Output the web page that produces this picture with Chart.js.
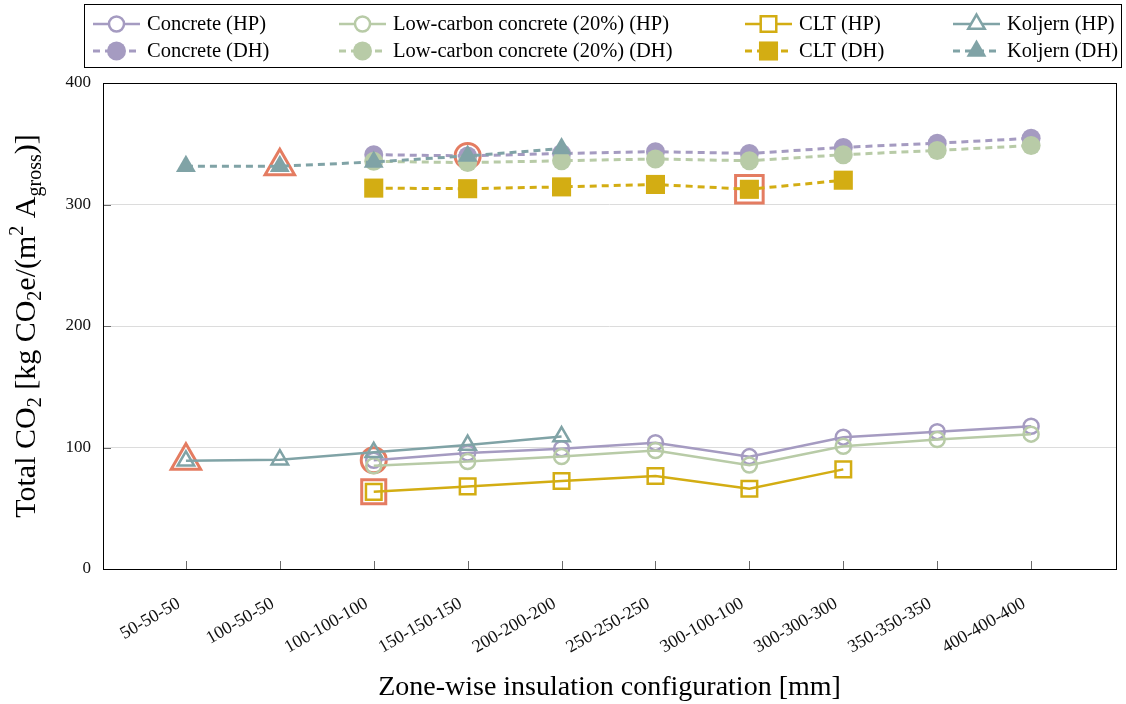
<!DOCTYPE html>
<html>
<head>
<meta charset="utf-8">
<script src="https://cdn.jsdelivr.net/npm/chart.js@4.4.1/dist/chart.umd.min.js"></script>
<style>
  html, body { margin: 0; padding: 0; background: #ffffff; }
  #wrap { width: 1126px; height: 704px; }
</style>
</head>
<body>
<div id="wrap"><canvas id="c" width="1126" height="704"></canvas></div>
<script>
// Insulation configurations (zone-wise thickness, mm)
const configurations = ['50-50-50', '100-50-50', '100-100-100', '150-150-150', '200-200-200',
  '250-250-250', '300-100-100', '300-300-300', '350-350-350', '400-400-400'];

// Total CO2 per building system, heat pump (HP) and district heating (DH)
const concreteHP  = [null, null, 89.5, 95.5, 99, 104, 92.5, 108.5, 113, 117.5];
const lowCarbonHP = [null, null, 85, 88.5, 92.5, 97.5, 85.5, 101, 106.5, 111];
const cltHP       = [null, null, 63.5, 68, 72.5, 76.5, 66, 82, null, null];
const koljernHP   = [89, 90, 96, 102, 109, null, null, null, null, null];

const concreteDH  = [null, null, 341, 340, 342, 343.5, 342, 347, 350.5, 354.5];
const lowCarbonDH = [null, null, 335.5, 334.5, 336, 337.5, 336, 341, 344.5, 348.5];
const cltDH       = [null, null, 313.5, 313, 314.5, 316.5, 312.5, 320, null, null];
const koljernDH   = [331.5, 331.5, 335, 340, 346, null, null, null, null, null];

const yTickValues = [0, 100, 200, 300, 400];

// Configurations singled out per series (index into configurations)
const highlightedHP = { koljern: [0], concrete: [2], clt: [2] };
const highlightedDH = { koljern: [1], concrete: [3], clt: [6] };

const FONT = '"Liberation Serif", "Times New Roman", serif';
const COLORS = {
  concrete: '#a59bc1',
  lowCarbon: '#b8cba7',
  clt: '#d3ad13',
  koljern: '#80a3a6',
  highlight: 'rgba(225,110,80,0.9)'
};

const toPoints = values => values
  .map((v, i) => (v == null ? null : { x: i, y: v }))
  .filter(Boolean);

const HP_RADIUS = { circle: 7.5, rect: 11, triangle: 9.5 };
const DH_RADIUS = { circle: 9.5, rect: 13.5, triangle: 11.5 };

function hpSeries(label, values, color, style, order) {
  return {
    label, data: toPoints(values), order,
    borderColor: color, backgroundColor: color, borderWidth: 2.5,
    pointStyle: style, pointRadius: HP_RADIUS[style],
    pointBorderColor: color, pointBackgroundColor: 'rgba(0,0,0,0)', pointBorderWidth: 2.5,
    tension: 0
  };
}
function dhSeries(label, values, color, style, order) {
  return {
    label, data: toPoints(values), order,
    borderColor: color, backgroundColor: color, borderWidth: 3, borderDash: [7, 5],
    pointStyle: style, pointRadius: DH_RADIUS[style],
    pointBorderColor: color, pointBackgroundColor: color, pointBorderWidth: 0,
    tension: 0
  };
}

const series = [
  hpSeries('Concrete (HP)', concreteHP, COLORS.concrete, 'circle', 8),
  hpSeries('Low-carbon concrete (20%) (HP)', lowCarbonHP, COLORS.lowCarbon, 'circle', 7),
  hpSeries('CLT (HP)', cltHP, COLORS.clt, 'rect', 6),
  hpSeries('Koljern (HP)', koljernHP, COLORS.koljern, 'triangle', 5),
  dhSeries('Concrete (DH)', concreteDH, COLORS.concrete, 'circle', 4),
  dhSeries('Low-carbon concrete (20%) (DH)', lowCarbonDH, COLORS.lowCarbon, 'circle', 3),
  dhSeries('CLT (DH)', cltDH, COLORS.clt, 'rect', 2),
  dhSeries('Koljern (DH)', koljernDH, COLORS.koljern, 'triangle', 1)
];

// Highlight rings drawn behind the selected markers
const HIGHLIGHT_RADIUS = {
  hp: { circle: 12.5, rect: 17, triangle: 17 },
  dh: { circle: 12.5, rect: 19.5, triangle: 17 }
};
const highlightPts = [], highlightStyles = [], highlightRadii = [];
function addHighlights(map, source, kind) {
  const lookup = { koljern: [source.koljern, 'triangle'], concrete: [source.concrete, 'circle'], clt: [source.clt, 'rect'] };
  Object.keys(map).forEach(key => {
    const [values, style] = lookup[key];
    map[key].forEach(i => {
      highlightPts.push({ x: i, y: values[i] });
      highlightStyles.push(style);
      highlightRadii.push(HIGHLIGHT_RADIUS[kind][style]);
    });
  });
}
addHighlights(highlightedHP, { koljern: koljernHP, concrete: concreteHP, clt: cltHP }, 'hp');
addHighlights(highlightedDH, { koljern: koljernDH, concrete: concreteDH, clt: cltDH }, 'dh');

const highlightSet = {
  label: 'highlight', data: highlightPts, order: 20, showLine: false,
  pointStyle: highlightStyles, pointRadius: highlightRadii,
  pointBorderColor: COLORS.highlight, pointBackgroundColor: '#ffffff', pointBorderWidth: 3
};

function drawMarker(ctx, style, x, y, r, fill, stroke, lw) {
  ctx.beginPath();
  if (style === 'circle') {
    ctx.arc(x, y, r, 0, Math.PI * 2);
  } else if (style === 'rect') {
    const s = Math.SQRT1_2 * r;
    ctx.rect(x - s, y - s, 2 * s, 2 * s);
  } else {
    for (let k = 0; k < 3; k++) {
      const a = k * 2 * Math.PI / 3;
      const px = x + Math.sin(a) * r, py = y - Math.cos(a) * r;
      k === 0 ? ctx.moveTo(px, py) : ctx.lineTo(px, py);
    }
    ctx.closePath();
  }
  if (fill) { ctx.fillStyle = fill; ctx.fill(); }
  if (stroke && lw > 0) { ctx.lineWidth = lw; ctx.strokeStyle = stroke; ctx.stroke(); }
}

// Frame, inner tick marks, legend box and the y-axis title with sub/superscripts
const decorations = {
  id: 'decorations',
  afterDraw(chart) {
    const ctx = chart.ctx;
    const a = chart.chartArea;
    const xs = chart.scales.x, ys = chart.scales.y;
    ctx.save();

    // inner tick marks
    ctx.strokeStyle = '#6b6b6b';
    ctx.lineWidth = 1;
    ctx.beginPath();
    yTickValues.forEach(v => {
      const py = Math.round(ys.getPixelForValue(v)) + 0.5;
      ctx.moveTo(a.left, py); ctx.lineTo(a.left + 8, py);
    });
    configurations.forEach((_, i) => {
      const px = Math.round(xs.getPixelForValue(i)) + 0.5;
      ctx.moveTo(px, a.bottom); ctx.lineTo(px, a.bottom - 8);
    });
    ctx.stroke();

    // frame
    ctx.strokeStyle = '#000000';
    ctx.lineWidth = 1;
    ctx.strokeRect(Math.round(a.left) + 0.5, Math.round(a.top) + 0.5,
      Math.round(a.right - a.left), Math.round(a.bottom - a.top));

    // legend
    const box = { left: 84, top: 4, right: 1121, bottom: 67 };
    ctx.strokeStyle = '#000000';
    ctx.strokeRect(box.left + 0.5, box.top + 0.5, box.right - box.left, box.bottom - box.top);
    const colX = [93, 339, 745, 953];
    const rowY = [24, 51];
    const sampleLen = 47;
    ctx.font = '20.5px ' + FONT;
    ctx.textBaseline = 'middle';
    ctx.textAlign = 'left';
    series.forEach((ds, i) => {
      const x0 = colX[i % 4], y0 = rowY[Math.floor(i / 4)];
      ctx.save();
      ctx.strokeStyle = ds.borderColor;
      ctx.lineWidth = ds.borderWidth;
      ctx.setLineDash(ds.borderDash || []);
      ctx.beginPath();
      ctx.moveTo(x0, y0); ctx.lineTo(x0 + sampleLen, y0);
      ctx.stroke();
      ctx.setLineDash([]);
      const filled = ds.pointBorderWidth === 0;
      drawMarker(ctx, ds.pointStyle, x0 + sampleLen / 2, y0, ds.pointRadius,
        filled ? ds.pointBackgroundColor : '#ffffff', ds.pointBorderColor, ds.pointBorderWidth);
      ctx.restore();
      ctx.fillStyle = '#000000';
      ctx.fillText(ds.label, x0 + sampleLen + 7, y0 + 1);
    });

    // y-axis title
    const parts = [
      { t: 'Total CO' }, { t: '2', shift: 'sub' }, { t: ' [kg CO' }, { t: '2', shift: 'sub' },
      { t: 'e/(m' }, { t: '2', shift: 'sup' }, { t: ' A' }, { t: 'gross', shift: 'sub' }, { t: ')]' }
    ];
    const size = 30, small = 20;
    const fontOf = p => (p.shift ? small : size) + 'px ' + FONT;
    let total = 0;
    parts.forEach(p => { ctx.font = fontOf(p); p.w = ctx.measureText(p.t).width; total += p.w; });
    ctx.translate(25, (a.top + a.bottom) / 2);
    ctx.rotate(-Math.PI / 2);
    ctx.fillStyle = '#000000';
    ctx.textBaseline = 'alphabetic';
    let cx = -total / 2;
    const base = 10;
    parts.forEach(p => {
      ctx.font = fontOf(p);
      const dy = p.shift === 'sub' ? 6 : p.shift === 'sup' ? -12 : 0;
      ctx.fillText(p.t, cx, base + dy);
      cx += p.w;
    });
    ctx.restore();
  }
};

new Chart(document.getElementById('c'), {
  type: 'line',
  data: { datasets: [...series, highlightSet] },
  options: {
    responsive: false,
    animation: false,
    events: [],
    layout: { padding: { top: 83, right: 10, left: 0, bottom: 0 }, autoPadding: false },
    plugins: { legend: { display: false }, tooltip: { enabled: false }, title: { display: false } },
    scales: {
      x: {
        type: 'linear',
        min: -0.883, max: 9.904,
        afterFit: s => { s.height = 135; },
        afterBuildTicks: s => { s.ticks = configurations.map((_, i) => ({ value: i })); },
        grid: { display: false, drawTicks: false },
        border: { display: false },
        ticks: {
          autoSkip: false, minRotation: 30, maxRotation: 30, padding: 24, labelOffset: -7,
          color: '#111111', font: { family: FONT, size: 18 },
          callback: v => configurations[v]
        },
        title: {
          display: true, text: 'Zone-wise insulation configuration [mm]',
          color: '#000000', font: { family: FONT, size: 28 }, padding: { top: 0, bottom: 0 }
        }
      },
      y: {
        min: 0, max: 400,
        afterFit: s => { s.width = 103; },
        afterBuildTicks: s => { s.ticks = yTickValues.map(v => ({ value: v })); },
        grid: { color: '#dcdcdc', lineWidth: 1, drawTicks: false },
        border: { display: false },
        ticks: { padding: 12, color: '#111111', font: { family: FONT, size: 17 } }
      }
    }
  },
  plugins: [decorations]
});
</script>
</body>
</html>
